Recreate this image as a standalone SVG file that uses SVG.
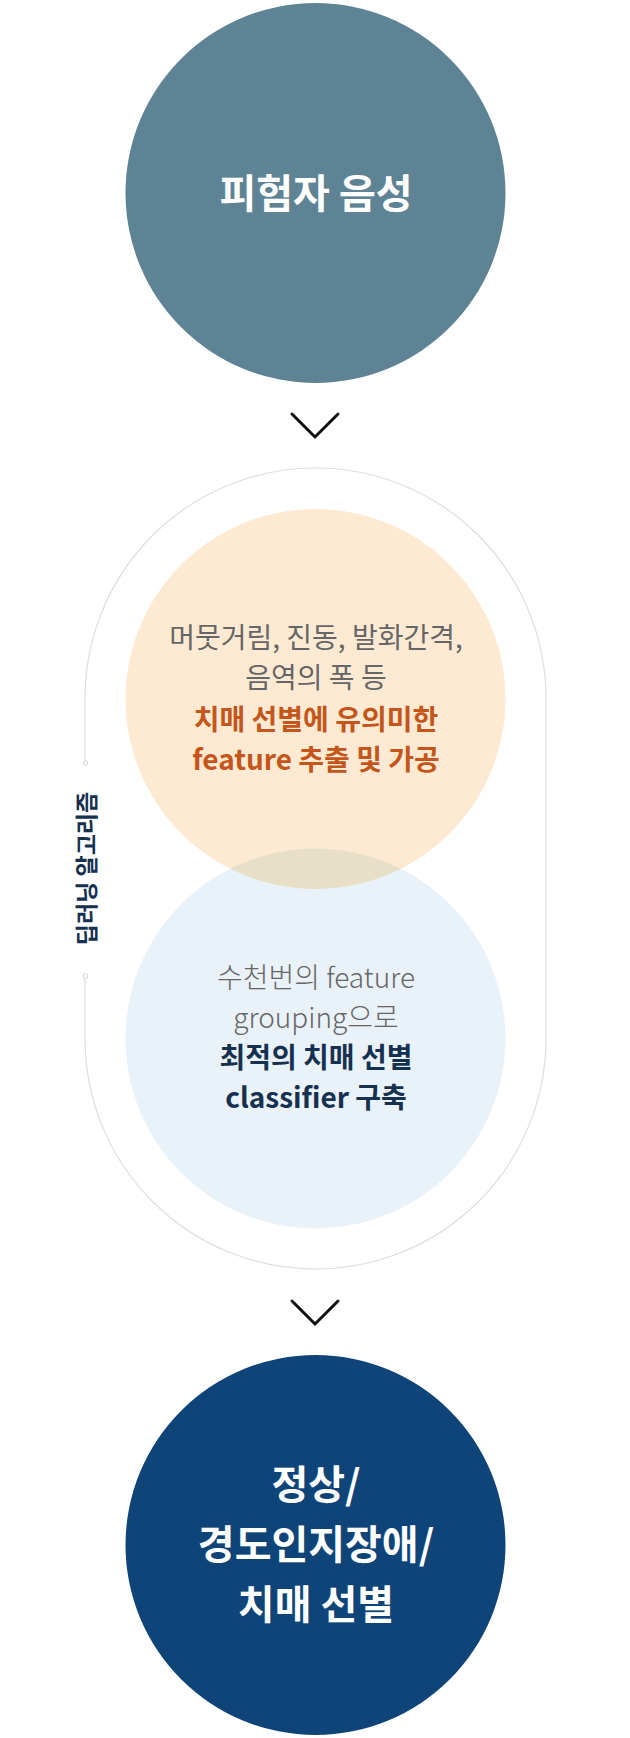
<svg xmlns="http://www.w3.org/2000/svg" width="630" height="1738" viewBox="0 0 630 1738">
<style>
text{font-family:"Noto Sans CJK KR","Noto Sans",sans-serif;text-anchor:middle}
.w{fill:#fff;font-size:40px;font-weight:700}
.g{fill:#666;font-size:28px;font-weight:400}
.gl{fill:#666;font-size:28px;font-weight:300}
.o{fill:#c5561b;font-size:28px;font-weight:700}
.n{fill:#16304f;font-size:28px;font-weight:700}
.chev{fill:none;stroke:#111;stroke-width:3;stroke-linecap:round;stroke-linejoin:miter}
</style>
<defs>
<clipPath id="clipBlue"><circle cx="315.5" cy="1038.5" r="190"/></clipPath>
</defs>
<rect width="630" height="1738" fill="#fff"/>
<g id="connectors">
<polyline class="chev" points="292,414 315,437 338,414"/>
<polyline class="chev" points="292,1301 315,1324 338,1301"/>
</g>
<g id="frame">
<path d="M85,763 V698.5 A230.5,230.5 0 0 1 546,698.5 V1038.5 A230.5,230.5 0 0 1 85,1038.5 V976" fill="none" stroke="#dedede" stroke-width="1.2"/>
<circle cx="85.5" cy="763" r="2.3" fill="#fff" stroke="#d4d4d4" stroke-width="1"/>
<circle cx="85.5" cy="976" r="2.3" fill="#fff" stroke="#d4d4d4" stroke-width="1"/>
<text transform="translate(94.5,868.5) rotate(-90)" style="fill:#16304f;font-size:23px;font-weight:700">딥러닝 알고리즘</text>
</g>
<g id="node-input">
<circle cx="315.5" cy="193" r="190" fill="#5e8394"/>
<text class="w" x="316" y="208">피험자 음성</text>
</g>
<g id="node-feature">
<circle cx="315.5" cy="699" r="190" fill="#feead3"/>
</g>
<g id="node-classifier">
<circle cx="315.5" cy="1038.5" r="190" fill="#e9f2f8"/>
<circle cx="315.5" cy="699" r="190" fill="#e8dfc7" clip-path="url(#clipBlue)"/>
<text class="gl" x="316" y="988">수천번의 feature</text>
<text class="gl" x="316" y="1028">grouping으로</text>
<text class="n" x="316" y="1068">최적의 치매 선별</text>
<text class="n" x="316" y="1108">classifier 구축</text>
</g>
<g id="node-feature-text">
<text class="g" x="316" y="648">머뭇거림, 진동, 발화간격,</text>
<text class="g" x="316" y="688">음역의 폭 등</text>
<text class="o" x="316" y="730">치매 선별에 유의미한</text>
<text class="o" x="316" y="770">feature 추출 및 가공</text>
</g>
<g id="node-result">
<circle cx="315.5" cy="1545" r="190" fill="#0f4479"/>
<text class="w" x="316" y="1499">정상/</text>
<text class="w" x="316" y="1559">경도인지장애/</text>
<text class="w" x="316" y="1619">치매 선별</text>
</g>
</svg>
